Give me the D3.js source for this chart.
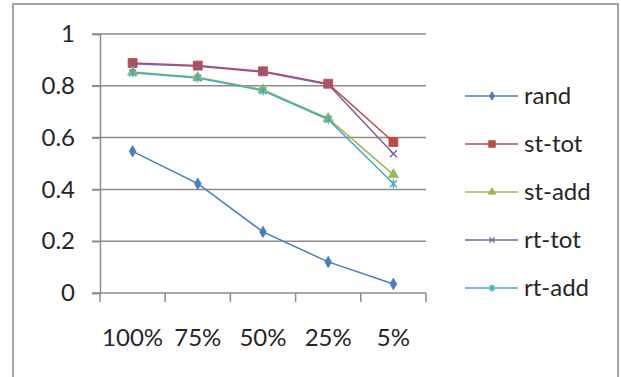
<!DOCTYPE html>
<html>
<head>
<meta charset="utf-8">
<script src="https://cdn.jsdelivr.net/npm/d3@7/dist/d3.min.js"></script>
<style>
  html, body { margin: 0; padding: 0; background: #fff; }
  svg { display: block; font-family: Lato, "Open Sans", sans-serif; }
</style>
</head>
<body>
<svg id="chart" width="621" height="377"></svg>
<script>
// Categories (sample fraction) and series values
const categories = ["100%", "75%", "50%", "25%", "5%"];
const seriesNames = ["rand", "st-tot", "st-add", "rt-tot", "rt-add"];
const rand  = [0.547, 0.422, 0.236, 0.120, 0.035];
const stTot = [0.888, 0.878, 0.856, 0.808, 0.583];
const stAdd = [0.853, 0.833, 0.785, 0.674, 0.457];
const rtTot = [0.885, 0.875, 0.853, 0.805, 0.538];
const rtAdd = [0.850, 0.830, 0.781, 0.670, 0.422];
const yTicks = [0, 0.2, 0.4, 0.6, 0.8, 1];
const yTickLabels = ["0", "0.2", "0.4", "0.6", "0.8", "1"];

const colors = ["#4A7EBB", "#BE4B48", "#98B954", "#7D60A0", "#46AAC5"];
const markers = ["diamond", "square", "triangle", "cross", "star"];
const seriesValues = [rand, stTot, stAdd, rtTot, rtAdd];
const series = seriesNames.map((name, i) => ({
  name, values: seriesValues[i], color: colors[i], marker: markers[i]
}));

const svg = d3.select("#chart");

// outer frame
svg.append("rect")
  .attr("x", 13).attr("y", 4).attr("width", 605).attr("height", 380)
  .attr("fill", "none").attr("stroke", "#a6a6a6").attr("stroke-width", 2);

const plot = { left: 100, right: 426, top: 34, bottom: 293 };

const x = d3.scaleBand().domain(categories).range([plot.left, plot.right]);
const y = d3.scaleLinear().domain([0, 1]).range([plot.bottom, plot.top]);

const gridColor = "#8c8c8c";

// horizontal gridlines
svg.append("g").selectAll("line").data(yTicks.filter(d => d > 0)).join("line")
  .attr("x1", plot.left - 8).attr("x2", plot.right)
  .attr("y1", d => y(d)).attr("y2", d => y(d))
  .attr("stroke", gridColor).attr("stroke-width", 1.5);

// y axis
const yAxis = svg.append("g").attr("transform", `translate(${plot.left},0)`)
  .call(d3.axisLeft(y).tickValues(yTicks).tickSize(8)
        .tickFormat((d, i) => yTickLabels[i]));
yAxis.select(".domain").attr("stroke", gridColor).attr("stroke-width", 1.5);
yAxis.selectAll(".tick line").attr("stroke", gridColor).attr("stroke-width", 1.5);
yAxis.selectAll(".tick text").attr("x", -25).attr("fill", "#262626")
  .style("font-size", "24px").style("font-family", "Lato, sans-serif");

// x axis with tick marks at category boundaries
const xAxisG = svg.append("g").attr("transform", `translate(0,${plot.bottom})`);
xAxisG.append("line").attr("x1", plot.left - 8).attr("x2", plot.right)
  .attr("stroke", gridColor).attr("stroke-width", 1.5);
const bounds = categories.map(c => x(c)).concat([plot.right]);
xAxisG.selectAll("line.tk").data(bounds).join("line").attr("class", "tk")
  .attr("x1", d => d).attr("x2", d => d).attr("y1", 0).attr("y2", 9)
  .attr("stroke", gridColor).attr("stroke-width", 1.5);
xAxisG.selectAll("text").data(categories).join("text")
  .attr("x", d => x(d) + x.bandwidth() / 2).attr("y", 53)
  .attr("text-anchor", "middle").attr("fill", "#262626")
  .style("font-size", "24px").text(d => d);

// marker shapes, scaled by k
function markerPath(type, k) {
  switch (type) {
    case "diamond": return d3.symbol(d3.symbolDiamond, 38 * k * k)();
    case "square": return d3.symbol(d3.symbolSquare, 80 * k * k)();
    case "triangle": return d3.symbol(d3.symbolTriangle, 45 * k * k)();
    case "cross": { const r = 3.5 * k; return `M${-r},${-r}L${r},${r}M${-r},${r}L${r},${-r}`; }
    case "star": { const r = 3.5 * k; return `M${-r},${-r}L${r},${r}M${-r},${r}L${r},${-r}M0,${-r - 1}L0,${r + 1}`; }
  }
}
function drawMarker(g, s, cx, cy, k) {
  const p = g.append("path").attr("d", markerPath(s.marker, k))
    .attr("transform", `translate(${cx},${cy})`);
  if (s.marker === "cross" || s.marker === "star") {
    p.attr("fill", "none").attr("stroke", s.color).attr("stroke-width", 1.4);
  } else {
    p.attr("fill", s.color).attr("stroke", s.color).attr("stroke-width", 0.8);
  }
}

const line = d3.line()
  .x((d, i) => x(categories[i]) + x.bandwidth() / 2)
  .y(d => y(d));

// series lines and markers
const seriesG = svg.append("g");
series.forEach(s => {
  seriesG.append("path").datum(s.values)
    .attr("d", line).attr("fill", "none")
    .attr("stroke", s.color).attr("stroke-width", 1.5);
});
series.forEach(s => {
  s.values.forEach((v, i) => {
    drawMarker(seriesG, s, x(categories[i]) + x.bandwidth() / 2, y(v), 1);
  });
});

// legend
const legend = svg.append("g");
const legendY = d3.scalePoint().domain(seriesNames).range([96, 288]);
series.forEach(s => {
  const ly = legendY(s.name);
  legend.append("line").attr("x1", 465).attr("x2", 518)
    .attr("y1", ly).attr("y2", ly)
    .attr("stroke", s.color).attr("stroke-width", 1.5);
  drawMarker(legend, s, 492, ly, 0.75);
  legend.append("text").attr("x", 524).attr("y", ly).attr("dy", "0.35em")
    .attr("fill", "#262626").style("font-size", "24px").text(s.name);
});
</script>
</body>
</html>
